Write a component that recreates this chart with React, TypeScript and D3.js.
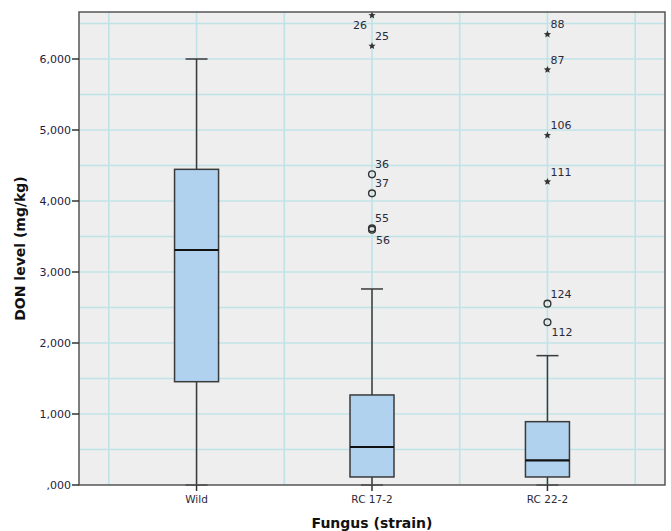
import React from "react";
import * as d3 from "d3";

const categories = ["Wild", "RC 17-2", "RC 22-2"];
const whiskerLow = [0, 0, 0];
const q1 = [1455, 113, 113];
const median = [3310, 535, 348];
const q3 = [4446, 1268, 892];
const whiskerHigh = [6000, 2761, 1822];

// outliers: category index, value, case label, kind ("o" mild, "*" extreme), label placement
const outCat = [1, 1, 1, 1, 1, 1, 2, 2, 2, 2, 2, 2];
const outVal = [6615, 6183, 4376, 4108, 3615, 3595, 6347, 5849, 4925, 4272, 2554, 2292];
const outId = ["26", "25", "36", "37", "55", "56", "88", "87", "106", "111", "124", "112"];
const outKind = ["*", "*", "o", "o", "o", "o", "*", "*", "*", "*", "o", "o"];
const outPos = ["l", "ur", "ur", "ur", "ur", "br", "ur", "ur", "ur", "ur", "ur", "br"];

const yTicks = [0, 1000, 2000, 3000, 4000, 5000, 6000];
const yTickLabels = [",000", "1,000", "2,000", "3,000", "4,000", "5,000", "6,000"];

const W = 671;
const H = 531;
const plot = { left: 79, right: 665, top: 12, bottom: 485 };
const FONT = "'DejaVu Sans', sans-serif";

function starPath(cx: number, cy: number, r: number) {
  const pts: string[] = [];
  for (let i = 0; i < 10; i++) {
    const rr = i % 2 === 0 ? r : r * 0.45;
    const a = -Math.PI / 2 + (i * Math.PI) / 5;
    pts.push(`${cx + rr * Math.cos(a)},${cy + rr * Math.sin(a)}`);
  }
  return "M" + pts.join("L") + "Z";
}

export default function App() {
  const y = d3.scaleLinear().domain([0, 6662]).range([plot.bottom, plot.top]);
  const x = d3
    .scalePoint<string>()
    .domain(categories)
    .range([plot.left, plot.right])
    .padding(0.67);
  const step = x.step();
  const boxW = 44;
  const capW = 22;

  const vGrid: number[] = [];
  const c0 = x(categories[0])!;
  for (let k = -4; k < 12; k++) {
    const gx = c0 + (k * step) / 2;
    if (gx > plot.left + 1 && gx < plot.right - 1) vGrid.push(gx);
  }
  const hGrid = d3.range(500, 6662, 500);

  return (
    <svg
      width={W}
      height={H}
      style={{ position: "absolute", left: 0, top: 0, background: "#fff" }}
      fontFamily={FONT}
    >
      <rect
        x={plot.left}
        y={plot.top}
        width={plot.right - plot.left}
        height={plot.bottom - plot.top}
        fill="#eeeeee"
      />
      {hGrid.map((v) => (
        <line
          key={"h" + v}
          x1={plot.left}
          x2={plot.right}
          y1={y(v)}
          y2={y(v)}
          stroke="#c0e3e7"
          strokeWidth={1.7}
        />
      ))}
      {vGrid.map((gx, i) => (
        <line
          key={"v" + i}
          x1={gx}
          x2={gx}
          y1={plot.top}
          y2={plot.bottom}
          stroke="#c0e3e7"
          strokeWidth={1.7}
        />
      ))}

      {categories.map((c, i) => {
        const cx = x(c)!;
        return (
          <g key={c}>
            <line x1={cx} x2={cx} y1={y(whiskerHigh[i])} y2={y(q3[i])} stroke="#3a3a3a" strokeWidth={1.5} />
            <line x1={cx} x2={cx} y1={y(q1[i])} y2={y(whiskerLow[i])} stroke="#3a3a3a" strokeWidth={1.5} />
            <line x1={cx - capW / 2} x2={cx + capW / 2} y1={y(whiskerHigh[i])} y2={y(whiskerHigh[i])} stroke="#3a3a3a" strokeWidth={1.5} />
            <line x1={cx - capW / 2} x2={cx + capW / 2} y1={y(whiskerLow[i])} y2={y(whiskerLow[i])} stroke="#3a3a3a" strokeWidth={1.5} />
            <rect
              x={cx - boxW / 2}
              y={y(q3[i])}
              width={boxW}
              height={y(q1[i]) - y(q3[i])}
              fill="#b1d2ef"
              stroke="#3a3a3a"
              strokeWidth={1.5}
            />
            <line x1={cx - boxW / 2} x2={cx + boxW / 2} y1={y(median[i])} y2={y(median[i])} stroke="#111" strokeWidth={2.2} />
          </g>
        );
      })}

      {outVal.map((v, i) => {
        const cx = x(categories[outCat[i]])!;
        const cy = y(v);
        const pos = outPos[i];
        const dx = pos === "l" ? -5 : pos === "br" ? 4 : 3;
        const dy = pos === "ur" ? -6 : 14;
        return (
          <g key={"o" + i}>
            {outKind[i] === "*" ? (
              <path d={starPath(cx, cy, 3.8)} fill="#333" />
            ) : (
              <circle cx={cx} cy={cy} r={3.4} fill="none" stroke="#333" strokeWidth={1.4} />
            )}
            <text
              x={cx + dx}
              y={cy + dy}
              fontSize={11}
              fill="#2a2a3a"
              textAnchor={pos === "l" ? "end" : "start"}
            >
              {outId[i]}
            </text>
          </g>
        );
      })}

      <rect
        x={plot.left}
        y={plot.top}
        width={plot.right - plot.left}
        height={plot.bottom - plot.top}
        fill="none"
        stroke="#555"
        strokeWidth={1.5}
      />

      {yTicks.map((t, i) => (
        <g key={"yt" + t}>
          <line x1={plot.left - 7} x2={plot.left} y1={y(t)} y2={y(t)} stroke="#333" strokeWidth={1.5} />
          <text
            x={plot.left - 8}
            y={y(t)}
            dy="0.35em"
            fontSize={11}
            textAnchor="end"
            fill="#1f2040"
          >
            {yTickLabels[i]}
          </text>
        </g>
      ))}

      {categories.map((c) => (
        <g key={"xt" + c}>
          <line x1={x(c)!} x2={x(c)!} y1={plot.bottom} y2={plot.bottom + 6} stroke="#333" strokeWidth={1.5} />
          <text x={x(c)!} y={plot.bottom + 18} fontSize={10.5} textAnchor="middle" fill="#2a2a3a">
            {c}
          </text>
        </g>
      ))}

      <text
        x={(plot.left + plot.right) / 2}
        y={528}
        fontSize={14}
        fontWeight="bold"
        textAnchor="middle"
        fill="#111"
      >
        Fungus (strain)
      </text>
      <text
        transform={`translate(25, ${(plot.top + plot.bottom) / 2}) rotate(-90)`}
        fontSize={14}
        fontWeight="bold"
        textAnchor="middle"
        fill="#111"
      >
        DON level (mg/kg)
      </text>
    </svg>
  );
}
